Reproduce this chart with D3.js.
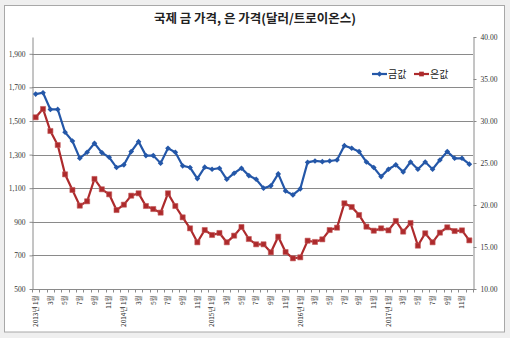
<!DOCTYPE html>
<html><head><meta charset="utf-8">
<script src="https://cdn.jsdelivr.net/npm/d3@7"></script>
<style>
html,body{margin:0;padding:0;background:#efefef;}
svg{display:block;}
</style></head>
<body>
<svg id="chart" width="510" height="338"></svg>
<script>
const title = "국제 금 가격, 은 가격(달러/트로이온스)";
const categories = [
 "2013년 1월","2월","3월","4월","5월","6월","7월","8월","9월","10월","11월","12월",
 "2014년 1월","2월","3월","4월","5월","6월","7월","8월","9월","10월","11월","12월",
 "2015년 1월","2월","3월","4월","5월","6월","7월","8월","9월","10월","11월","12월",
 "2016년 1월","2월","3월","4월","5월","6월","7월","8월","9월","10월","11월","12월",
 "2017년 1월","2월","3월","4월","5월","6월","7월","8월","9월","10월","11월","12월"
];
const seriesNames = ["금값","은값"];
const gold = [1660,1668,1569,1569,1433,1381,1278,1314,1367,1312,1284,1223,
 1239,1318,1377,1294,1294,1249,1338,1314,1233,1223,1157,1225,
 1213,1219,1153,1189,1219,1175,1153,1100,1114,1185,1084,1060,
 1096,1254,1262,1258,1262,1268,1353,1338,1318,1256,1223,1169,
 1213,1239,1197,1256,1213,1256,1213,1268,1318,1278,1278,1243];
const silver = [30.44,31.43,28.81,27.14,23.65,21.79,19.92,20.44,23.10,21.87,21.27,19.40,
 20.04,21.11,21.39,19.88,19.52,19.09,21.39,19.88,18.53,17.22,15.56,17.02,
 16.43,16.67,15.56,16.35,17.38,15.95,15.32,15.32,14.37,16.23,14.40,13.65,
 13.77,15.75,15.60,15.91,17.02,17.30,20.20,19.76,18.81,17.42,16.94,17.22,
 16.98,18.10,16.83,17.86,15.16,16.63,15.56,16.71,17.34,16.90,16.98,15.79];
const leftTicks = [500,700,900,1100,1300,1500,1700,1900];
const rightTicks = [10,15,20,25,30,35,40];

const svg = d3.select("#chart");
const L = 32, R = 473, T = 37, B = 289;
const goldColor = "#2457a8", silverColor = "#ad2a2c";

// panel
svg.append("rect").attr("x",4.5).attr("y",5.5).attr("width",500).attr("height",326.5)
  .attr("fill","#fff").attr("stroke","#a8a8a8");

svg.append("text").attr("x",255).attr("y",23).attr("text-anchor","middle")
  .attr("font-family","'Noto Sans CJK KR'").attr("font-size",12.5).attr("font-weight",700)
  .attr("fill","#222").text(title);

const x = d3.scaleBand().domain(d3.range(categories.length)).range([L,R]).padding(0);
const cx = i => x(i) + x.bandwidth()/2;
const yL = d3.scaleLinear().domain([500,2000]).range([B,T]);
const yR = d3.scaleLinear().domain([10,40]).range([B,T]);

// gridlines
svg.append("g").selectAll("line").data(leftTicks.filter(d=>d>500)).join("line")
  .attr("x1",L).attr("x2",R).attr("y1",d=>Math.round(yL(d))+0.5).attr("y2",d=>Math.round(yL(d))+0.5)
  .attr("stroke","#8a8a8a").attr("stroke-width",1);

const axisStyle = g => {
  g.select(".domain").attr("stroke","#8a8a8a");
  g.selectAll(".tick line").attr("stroke","#8a8a8a");
};

// left axis
svg.append("g").attr("transform",`translate(${L+0.5},0)`)
  .call(d3.axisLeft(yL).tickValues(leftTicks).tickFormat(d3.format(",")).tickSize(3).tickSizeOuter(0))
  .call(axisStyle)
  .call(g=>g.selectAll("text").attr("font-family","'Liberation Serif'").attr("font-size",7.5).attr("fill","#333").attr("x",-7));

// right axis
svg.append("g").attr("transform",`translate(${R+0.5},0)`)
  .call(d3.axisRight(yR).tickValues(rightTicks).tickFormat(d3.format(".2f")).tickSize(3).tickSizeOuter(0))
  .call(axisStyle)
  .call(g=>g.selectAll("text").attr("font-family","'Liberation Serif'").attr("font-size",7.5).attr("fill","#333").attr("x",7));

// x axis
const xg = svg.append("g").attr("transform",`translate(0,${B+0.5})`);
xg.append("line").attr("x1",L).attr("x2",R+1).attr("stroke","#8a8a8a");
xg.selectAll("line.tk").data(d3.range(categories.length+1)).join("line").attr("class","tk")
  .attr("x1",i=>Math.round(L + i*x.bandwidth())+0.5).attr("x2",i=>Math.round(L + i*x.bandwidth())+0.5)
  .attr("y1",0).attr("y2",3).attr("stroke","#8a8a8a");
xg.selectAll("text").data(d3.range(0,categories.length,2)).join("text")
  .attr("transform",i=>`translate(${cx(i)},6) rotate(-90)`)
  .attr("text-anchor","end").attr("dy","0.35em")
  .attr("font-family","'Noto Sans CJK KR'").attr("font-size",6.5).attr("fill","#333")
  .text(i=>categories[i]);

// lines
const lineG = d3.line().x((d,i)=>cx(i)).y(d=>yL(d));
const lineS = d3.line().x((d,i)=>cx(i)).y(d=>yR(d));
svg.append("path").datum(silver).attr("d",lineS).attr("fill","none").attr("stroke",silverColor).attr("stroke-width",2.2);
svg.append("g").selectAll("path").data(silver).join("path")
  .attr("d",d3.symbol(d3.symbolSquare,26))
  .attr("transform",(d,i)=>`translate(${cx(i)},${yR(d)})`)
  .attr("fill",silverColor).attr("stroke","#c55a5a").attr("stroke-width",0.6);

svg.append("path").datum(gold).attr("d",lineG).attr("fill","none").attr("stroke",goldColor).attr("stroke-width",2.2);
svg.append("g").selectAll("path").data(gold).join("path")
  .attr("d",d3.symbol(d3.symbolSquare,16))
  .attr("transform",(d,i)=>`translate(${cx(i)},${yL(d)}) rotate(45)`)
  .attr("fill",goldColor);

// legend
const legend = [
  {name:seriesNames[0], color:goldColor, sym:d3.symbolSquare, size:16, rot:45, x:372},
  {name:seriesNames[1], color:silverColor, sym:d3.symbolSquare, size:22, rot:0, x:414}
];
const lg = svg.append("g").attr("transform","translate(0,74)");
legend.forEach(d=>{
  lg.append("line").attr("x1",d.x).attr("x2",d.x+15).attr("stroke",d.color).attr("stroke-width",2.2);
  lg.append("path").attr("d",d3.symbol(d.sym,d.size)).attr("transform",`translate(${d.x+7.5},0) rotate(${d.rot})`).attr("fill",d.color);
  lg.append("text").attr("x",d.x+16).attr("dy","0.35em").attr("font-family","'Noto Sans CJK KR'")
    .attr("font-size",10).attr("fill","#222").text(d.name);
});
</script>
</body></html>
